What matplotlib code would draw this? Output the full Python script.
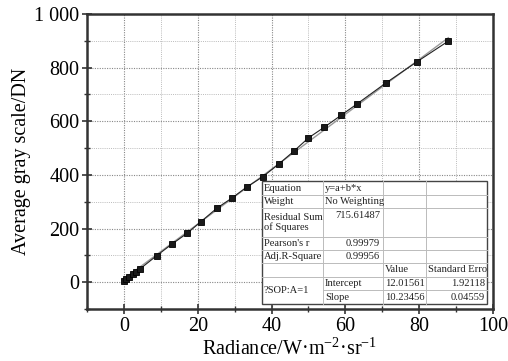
import matplotlib
matplotlib.use("Agg")
import matplotlib.pyplot as plt
import numpy as np
from matplotlib.ticker import MultipleLocator, FixedLocator, FixedFormatter
from matplotlib.patches import Rectangle

plt.rcParams['font.family'] = ['Liberation Serif', 'DejaVu Serif']
plt.rcParams['mathtext.fontset'] = 'custom'
plt.rcParams['mathtext.rm'] = 'Liberation Serif'
plt.rcParams['mathtext.it'] = 'Liberation Serif:italic'

# data
radiance = [0.0, 0.5, 1.5, 2.4, 3.3, 4.4, 8.9, 12.9, 17.1, 20.9, 25.2, 29.4, 33.3,
            37.6, 42.1, 46.0, 50.0, 54.3, 58.8, 63.1, 71.0, 79.3, 87.9]
gray = [6, 11, 19, 29, 39, 50, 99, 141, 182, 226, 276, 315, 355,
        393, 442, 488, 538, 578, 622, 664, 743, 821, 899]
intercept = 12.01561
slope = 10.23456

x_ticks = [0, 20, 40, 60, 80, 100]
x_ticklabels = ['0', '20', '40', '60', '80', '100']
y_ticks = [0, 200, 400, 600, 800, 1000]
y_ticklabels = ['0', '200', '400', '600', '800', '1 000']

xlabel = 'Radiance/W\u00b7m$^{\\mathregular{-2}}$\u00b7sr$^{\\mathregular{-1}}$'
ylabel = 'Average gray scale/DN'

table_labels = ['Equation', 'Weight', 'Residual Sum\nof Squares', "Pearson's r", 'Adj.R-Square']
table_values = ['y=a+b*x', 'No Weighting', '715.61487', '0.99979', '0.99956']
param_header = ['Value', 'Standard Erro']
param_group = '?SOP:A=1'
param_names = ['Intercept', 'Slope']
param_values = ['12.01561', '10.23456']
param_errors = ['1.92118', '0.04559']

W, H = 508, 361
fig = plt.figure(figsize=(W/100, H/100), dpi=100)
L, R, T, B = 87, 493, 14, 309
ax = fig.add_axes([L/W, 1-B/H, (R-L)/W, (B-T)/H])

ax.set_xlim(-10, 100)
ax.set_ylim(-100, 1000)

# grid
ax.xaxis.set_major_locator(FixedLocator(x_ticks))
ax.xaxis.set_major_formatter(FixedFormatter(x_ticklabels))
ax.xaxis.set_minor_locator(MultipleLocator(10))
ax.yaxis.set_major_locator(FixedLocator(y_ticks))
ax.yaxis.set_major_formatter(FixedFormatter(y_ticklabels))
ax.yaxis.set_minor_locator(MultipleLocator(100))
ax.grid(which='major', color='#888888', linestyle=(0, (1, 1.2)), linewidth=0.8)
ax.grid(which='minor', color='#bbbbbb', linestyle=(0, (1, 1.2)), linewidth=0.7)
ax.set_axisbelow(True)

# fit line
xf = np.array([min(radiance), max(radiance)])
ax.plot(xf, intercept + slope*xf, color='#999999', lw=1.0, zorder=2)
# data
ax.plot(radiance, gray, color='#222222', lw=0.8, marker='s', markersize=4.8,
        markerfacecolor='#1a1a1a', markeredgecolor='#000000', markeredgewidth=0.6, zorder=3)

for s in ax.spines.values():
    s.set_linewidth(1.8)
    s.set_color('#333333')

ax.tick_params(which='major', direction='inout', length=7, width=1.2, color='#333333',
               labelsize=14.5, pad=2, top=False, right=False)
ax.tick_params(which='minor', direction='inout', length=5, width=1.0, color='#333333',
               top=False, right=False)
ax.set_xlabel(xlabel, fontsize=14.5, labelpad=2)
ax.set_ylabel(ylabel, fontsize=14.5, labelpad=2)

# table
def fx(px):
    return (px - L)/(R - L)
def fy(py):
    return (B - py)/(B - T)

cols = [262, 323, 383, 426, 487]
rows = [181, 195, 208, 237, 250, 263, 277, 290, 304]
tr = ax.transAxes
fs = 7.6
ax.add_patch(Rectangle((fx(cols[0]), fy(rows[-1])), fx(cols[-1]) - fx(cols[0]),
                       fy(rows[0]) - fy(rows[-1]), transform=tr, facecolor='white',
                       edgecolor='#444444', lw=1.0, zorder=5))
lc = '#bbbbbb'
def hline(py, x0, x1):
    ax.plot([fx(x0), fx(x1)], [fy(py), fy(py)], transform=tr, color=lc, lw=0.7, zorder=6)
def vline(px, y0, y1):
    ax.plot([fx(px), fx(px)], [fy(y0), fy(y1)], transform=tr, color=lc, lw=0.7, zorder=6)
for r in rows[1:-1]:
    if r == rows[7]:
        hline(r, cols[1], cols[-1])
    else:
        hline(r, cols[0], cols[-1])
for c in cols[1:-1]:
    vline(c, rows[0], rows[-1])

def txt(px, py, s, ha='left'):
    ax.text(fx(px), fy(py), s, transform=tr, fontsize=fs, ha=ha, va='center',
            color='#222222', zorder=7, linespacing=0.95)

for i, (lab, val) in enumerate(zip(table_labels, table_values)):
    ymid = (rows[i] + rows[i+1]) / 2
    txt(cols[0] + 2, ymid, lab)
    if i < 2:
        txt(cols[1] + 2, ymid, val)
    elif i == 2:
        txt(cols[2] - 3, rows[i] + 7, val, ha='right')
    else:
        txt(cols[2] - 3, ymid, val, ha='right')
ymid = (rows[5] + rows[6]) / 2
txt(cols[2] + 2, ymid, param_header[0])
txt(cols[3] + 2, ymid, param_header[1])
txt(cols[0] + 2, (rows[6] + rows[8]) / 2, param_group)
for j in range(2):
    ymid = (rows[6+j] + rows[7+j]) / 2
    txt(cols[1] + 2, ymid, param_names[j])
    txt(cols[3] - 1, ymid, param_values[j], ha='right')
    txt(cols[4] - 2, ymid, param_errors[j], ha='right')

fig.savefig('out.png', dpi=100)
